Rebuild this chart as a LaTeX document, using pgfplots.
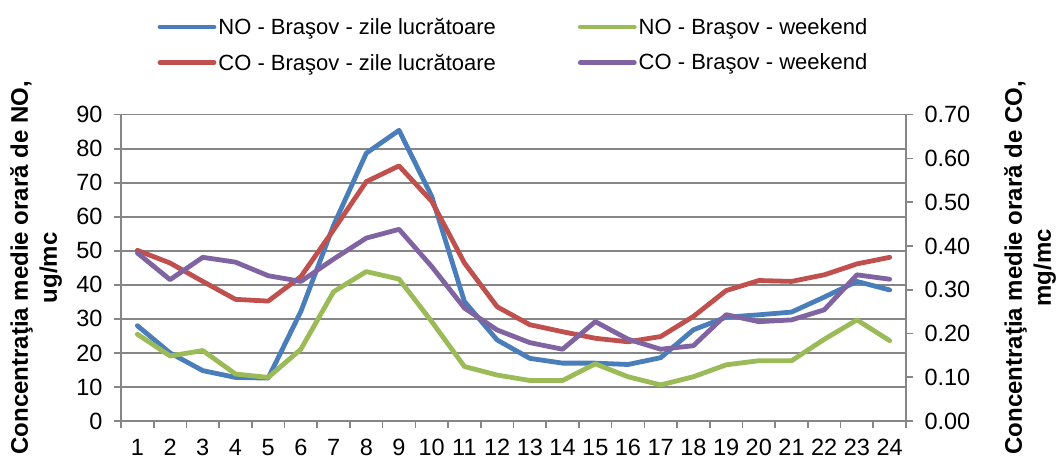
\documentclass[border=0pt]{standalone}
\usepackage{pgfplots}
\usepackage{pgfplotstable}
\pgfplotsset{compat=1.18}
\usepackage{fontspec}
\setmainfont{Liberation Sans}
\definecolor{cblue}{RGB}{74,126,187}
\definecolor{cred}{RGB}{192,80,77}
\definecolor{cgreen}{RGB}{155,187,89}
\definecolor{cpurple}{RGB}{128,100,162}
\definecolor{gridgray}{RGB}{134,134,134}

\pgfplotstableread{
h NOw NOe
1 28.0 25.5
2 20.0 19.1
3 14.8 20.7
4 12.8 13.8
5 12.6 12.8
6 32.2 21.1
7 57.5 38.0
8 78.7 43.9
9 85.4 41.7
10 66.0 29.2
11 35.1 16.0
12 23.8 13.5
13 18.4 11.9
14 17.0 11.9
15 17.0 16.8
16 16.6 13.0
17 18.6 10.6
18 26.8 13.0
19 30.5 16.5
20 31.2 17.7
21 32.0 17.7
22 36.4 24.0
23 41.0 29.7
24 38.5 23.6
}\NOdata

\pgfplotstableread{
h COw COe
1 0.390 0.384
2 0.361 0.323
3 0.319 0.374
4 0.278 0.363
5 0.274 0.332
6 0.330 0.319
7 0.437 0.370
8 0.547 0.418
9 0.583 0.438
10 0.502 0.353
11 0.361 0.258
12 0.261 0.208
13 0.220 0.179
14 0.204 0.164
15 0.189 0.227
16 0.181 0.187
17 0.193 0.164
18 0.239 0.172
19 0.298 0.243
20 0.321 0.227
21 0.319 0.231
22 0.334 0.254
23 0.359 0.334
24 0.374 0.324
}\COdata

\pgfplotsset{
  common/.style={
    scale only axis, width=785bp, height=306.3bp,
    xmin=0.5, xmax=24.5,
    axis line style={line width=1.6bp, gridgray, -},
    tick style={line width=1.6bp, gridgray},
    tick align=outside,
    major tick length=7bp, minor tick length=7bp,
    ticklabel style={font=\fontsize{23.5bp}{28bp}\selectfont, text=black},
    /pgf/number format/assume math mode=true,
  },
  serie/.style={line width=4.8bp, line join=round, line cap=round, #1},
}

\begin{document}
\begin{tikzpicture}
\begin{axis}[common, name=ax,
  ymin=0, ymax=90,
  axis y line*=left, axis x line*=bottom,
  xtick={1,...,24}, minor xtick={0.5,1.5,...,24.5},
  major x tick style={draw=none},
  ytick={0,10,...,90},
  yticklabel style={xshift=-8bp},
  xticklabel style={yshift=-8bp},
  ymajorgrids, major grid style={line width=1.6bp, gridgray},
  every axis y label/.style={at={(axis description cs:-0.108,0.5)}, anchor=center, rotate=90,
    align=center, font=\fontsize{24bp}{29bp}\selectfont\bfseries},
  ylabel={Concentraţia medie orară de NO,\\ug/mc},
]
\addplot[serie=cblue] table[x=h, y=NOw] {\NOdata};
\addplot[serie=cgreen] table[x=h, y=NOe] {\NOdata};
\end{axis}
\begin{axis}[common,
  ymin=0, ymax=0.7,
  axis y line*=right, axis x line=none,
  ytick={0,0.1,0.2,0.3,0.4,0.5,0.6,0.7},
  yticklabel style={xshift=8bp, /pgf/number format/.cd, fixed, fixed zerofill, precision=2},
  every axis y label/.style={at={(axis description cs:1.158,0.5)}, anchor=center, rotate=90,
    align=center, font=\fontsize{24bp}{29bp}\selectfont\bfseries},
  ylabel={Concentraţia medie orară de CO,\\mg/mc},
  legend columns=2,
  legend cell align=left,
  legend image code/.code={\draw[#1, line width=4.8bp, line cap=round] (0bp,0bp) -- (54bp,0bp);},
  legend style={at={(axis description cs:0.5,1)}, anchor=south, yshift=39bp,
    draw=none, fill=none, font=\fontsize{22bp}{26bp}\selectfont,
    row sep=14bp,
    /tikz/every even column/.append style={column sep=80bp}},
]
\addlegendimage{cblue}
\addlegendentry{NO - Braşov - zile lucrătoare}
\addlegendimage{cgreen}
\addlegendentry{NO - Braşov - weekend}
\addplot[serie=cred] table[x=h, y=COw] {\COdata};
\addlegendentry{CO - Braşov - zile lucrătoare}
\addplot[serie=cpurple] table[x=h, y=COe] {\COdata};
\addlegendentry{CO - Braşov - weekend}
\end{axis}
\pgfresetboundingbox
\path[use as bounding box] ([xshift=-121bp,yshift=-43bp]ax.south west) rectangle ([xshift=152bp,yshift=114.7bp]ax.north east);
\end{tikzpicture}
\end{document}
